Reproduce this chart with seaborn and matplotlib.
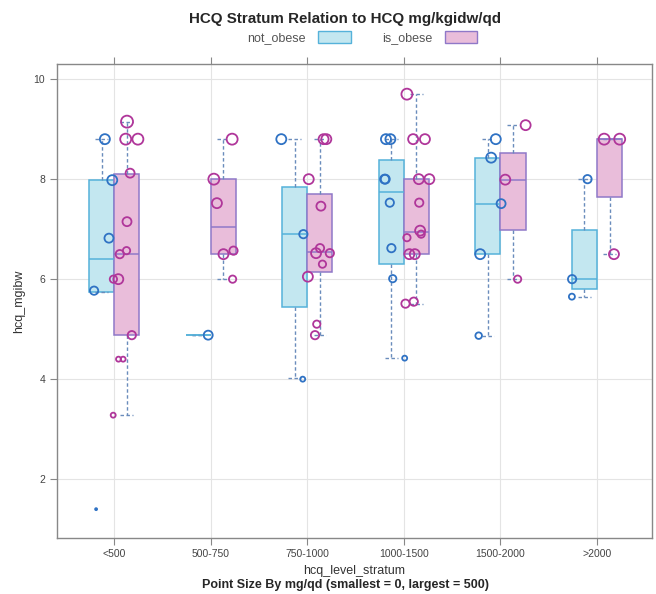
import numpy as np
import pandas as pd
import matplotlib.pyplot as plt
import seaborn as sns
from matplotlib.patches import Patch
from matplotlib.colors import to_hex

strata = ['<500', '500-750', '750-1000', '1000-1500', '1500-2000', '>2000']
groups = ['not_obese', 'is_obese']

# box summaries: min, q1, median, q3, max (per stratum)
box_not_obese = [
    [5.75, 5.75, 6.40, 7.98, 8.80],
    [4.88, 4.88, 4.88, 4.88, 4.88],
    [4.02, 5.45, 6.90, 7.85, 8.80],
    [4.42, 6.30, 7.75, 8.39, 8.80],
    [4.87, 6.50, 7.51, 8.43, 8.80],
    [5.65, 5.81, 6.00, 6.98, 8.00],
]
box_is_obese = [
    [3.28, 4.88, 6.50, 8.11, 9.15],
    [6.00, 6.50, 7.05, 8.00, 8.80],
    [4.88, 6.15, 6.55, 7.71, 8.80],
    [5.51, 6.50, 6.95, 8.00, 9.70],
    [6.00, 6.98, 7.99, 8.53, 9.08],
    [6.50, 7.65, 8.80, 8.80, 8.80],
]

# single patients: hcq_mgibw and dose in mg/qd (estimated from circle size)
not_obese_vals = [
    [8.80, 7.98, 6.82, 5.77, 1.40],
    [4.88],
    [8.80, 6.90, 4.00],
    [8.80, 8.80, 8.00, 8.00, 7.53, 6.62, 6.01, 4.42],
    [8.80, 8.43, 7.51, 6.50, 4.87],
    [8.00, 6.00, 5.65],
]
not_obese_dose = [
    [319, 319, 256, 216, 0],
    [256],
    [319, 216, 70],
    [319, 319, 256, 256, 216, 216, 164, 70],
    [319, 319, 256, 319, 130],
    [216, 216, 107],
]
is_obese_vals = [
    [9.15, 8.80, 8.80, 8.12, 7.15, 6.57, 6.50, 6.00, 6.00, 4.88, 4.40, 4.40, 3.28],
    [8.80, 8.00, 7.52, 6.57, 6.50, 6.00],
    [8.80, 8.80, 8.00, 7.46, 6.62, 6.52, 6.52, 6.30, 6.05, 5.10, 4.88],
    [9.70, 8.80, 8.80, 8.00, 8.00, 7.53, 6.97, 6.90, 6.83, 6.50, 6.50, 5.55, 5.51],
    [9.08, 7.99, 6.00],
    [8.80, 8.80, 6.50],
]
is_obese_dose = [
    [465, 388, 388, 256, 256, 164, 216, 164, 319, 216, 70, 70, 70],
    [388, 388, 319, 216, 319, 164],
    [319, 319, 319, 256, 216, 216, 319, 164, 319, 164, 216],
    [388, 319, 319, 319, 319, 216, 319, 164, 164, 319, 319, 216, 216],
    [319, 319, 164],
    [388, 388, 319],
]

fill_colors = {'not_obese': '#c3e7f0', 'is_obese': '#e9bdda'}
edge_colors = {'not_obese': '#55b2da', 'is_obese': '#8f78c8'}
point_colors = {'not_obese': '#2f72c4', 'is_obese': '#b0369a'}
whisker_color = '#6a8cbc'

rows = []
for g, boxes in zip(groups, [box_not_obese, box_is_obese]):
    for s, b in zip(strata, boxes):
        for v in b:
            rows.append({'stratum': s, 'group': g, 'hcq_mgibw': v})
box_df = pd.DataFrame(rows)

rng = np.random.default_rng(7)
rows = []
for g, off, vals, doses in zip(groups, [-0.13, 0.13],
                               [not_obese_vals, is_obese_vals],
                               [not_obese_dose, is_obese_dose]):
    for i, (vs, ds) in enumerate(zip(vals, doses)):
        for v, d in zip(vs, ds):
            rows.append({'group': g, 'hcq_mgibw': v, 'dose': d,
                         'x': i + off + rng.uniform(-0.14, 0.14)})
pts_df = pd.DataFrame(rows)

sns.set_style('white')
plt.rcParams['font.family'] = ['Liberation Sans', 'DejaVu Sans']

fig = plt.figure(figsize=(6.56, 5.94), dpi=100)
ax = fig.add_axes([0.087, 0.094, 0.907, 0.798])

sns.boxplot(data=box_df, x='stratum', y='hcq_mgibw', hue='group',
            order=strata, hue_order=groups, palette=fill_colors, saturation=1,
            width=0.52, gap=0, whis=(0, 100), showfliers=False,
            linecolor=whisker_color, linewidth=1.1,
            whiskerprops=dict(linestyle=(0, (2.5, 1.8)), linewidth=1),
            capprops=dict(linestyle=(0, (2.5, 1.8)), linewidth=1),
            legend=False, ax=ax)

# box outlines and medians take the colour of their group
fill_to_group = {to_hex(c): g for g, c in fill_colors.items()}
for p in ax.patches:
    g = fill_to_group.get(to_hex(p.get_facecolor()))
    if g:
        p.set_edgecolor(edge_colors[g])
for ln in ax.lines:
    if ln.get_linestyle() == '-':
        xc = np.mean(ln.get_xdata())
        g = 'not_obese' if xc < round(xc) else 'is_obese'
        ln.set_color(edge_colors[g])

sns.scatterplot(data=pts_df, x='x', y='hcq_mgibw', hue='group', hue_order=groups,
                palette=point_colors, size='dose', sizes=(2, 80), size_norm=(0, 500),
                linewidth=1.3, legend=False, ax=ax, zorder=5)
pts = ax.collections[-1]
pts.set_edgecolors(pts.get_facecolors())
pts.set_facecolors('none')

ax.set_xticks(range(len(strata)))
ax.set_xticklabels(strata)
ax.set_yticks([2, 4, 6, 8, 10])
ax.set_xlim(-0.59, 5.57)
ax.set_ylim(0.82, 10.3)
ax.grid(True, color='#e4e4e4', linewidth=0.8)
ax.set_axisbelow(True)
for sp in ax.spines.values():
    sp.set_color('#888888')
    sp.set_linewidth(1)
ax.tick_params(axis='x', top=True, bottom=True, direction='out', length=5,
               color='#888888', labelcolor='#444444', labelsize=7.5, pad=3)
ax.tick_params(axis='y', left=True, direction='out', length=5,
               color='#888888', labelcolor='#444444', labelsize=7.5)

ax.set_xlabel('hcq_level_stratum', fontsize=9, color='#333333', labelpad=4)
ax.set_ylabel('hcq_mgibw', fontsize=9, color='#333333', labelpad=6)

fig.text(0.526, 0.968, 'HCQ Stratum Relation to HCQ mg/kgidw/qd',
         ha='center', va='center', fontsize=10.9, fontweight='bold')
fig.text(0.526, 0.015, 'Point Size By mg/qd (smallest = 0, largest = 500)',
         ha='center', va='center', fontsize=9, fontweight='bold')

handles = [Patch(facecolor=fill_colors[g], edgecolor=edge_colors[g], label=g) for g in groups]
leg = fig.legend(handles=handles, loc='center', bbox_to_anchor=(0.552, 0.937), ncol=2,
                 frameon=False, markerfirst=False, fontsize=9, handlelength=2.6,
                 handleheight=1.1, columnspacing=2.5, handletextpad=1.0)
for t in leg.get_texts():
    t.set_color('#555555')

fig.savefig('out.png', dpi=100)
